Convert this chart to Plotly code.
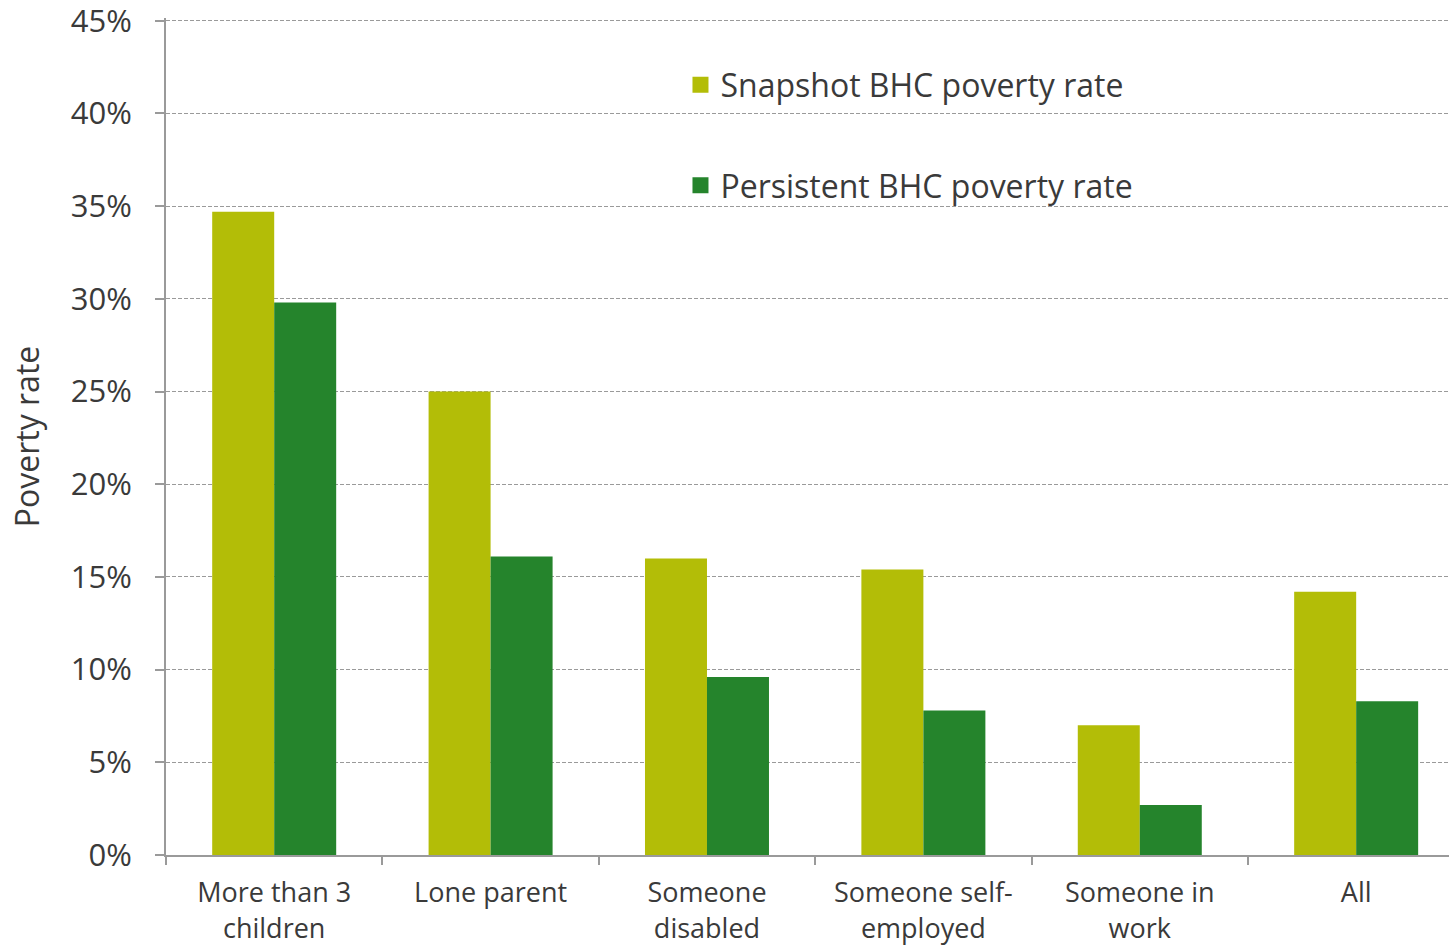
import plotly.graph_objects as go

categories = ["More than 3<br>children", "Lone parent", "Someone<br>disabled",
              "Someone self-<br>employed", "Someone in<br>work", "All"]
snapshot = [34.7, 25.0, 16.0, 15.4, 7.0, 14.2]
persistent = [29.8, 16.1, 9.6, 7.8, 2.7, 8.3]
series_names = ["Snapshot BHC poverty rate", "Persistent BHC poverty rate"]
colors = ["#B3BD07", "#25842C"]
y_ticks = [0, 5, 10, 15, 20, 25, 30, 35, 40, 45]
y_tick_labels = ["0%", "5%", "10%", "15%", "20%", "25%", "30%", "35%", "40%", "45%"]

FONT = "Open Sans"
TXT = "#3a3a3a"
AX = "#9a9a9a"

fig = go.Figure()
for name, vals, col in zip(series_names, [snapshot, persistent], colors):
    fig.add_trace(go.Bar(x=categories, y=vals, name=name, marker_color=col,
                         marker_line_width=0, showlegend=False))
for i, (name, col) in enumerate(zip(series_names, colors)):
    fig.add_trace(go.Scatter(x=[None], y=[None], mode="markers", name=name,
                             legendgroup=f"g{i}",
                             marker=dict(symbol="square", size=20, color=col)))

fig.update_layout(
    width=1449, height=945,
    margin=dict(l=166, r=0, t=18, b=90, autoexpand=False),
    paper_bgcolor="white", plot_bgcolor="white",
    font=dict(family=FONT, color=TXT),
    barmode="group", bargap=0.427, bargroupgap=0,
    legend=dict(x=0.401, y=0.953, xanchor="left", yanchor="top",
                font=dict(size=32, family=FONT, color=TXT),
                bgcolor="rgba(0,0,0,0)", tracegroupgap=56,
                traceorder="grouped", itemsizing="trace"),
)
fig.update_xaxes(
    type="category", range=[-0.5, 5.429],
    showline=True, linecolor=AX, linewidth=2,
    ticks="outside", tickson="boundaries", ticklen=8, tickcolor=AX, tickwidth=2,
    tickfont=dict(size=27, family=FONT, color=TXT), ticklabelstandoff=13,
    showgrid=False, fixedrange=True,
)
fig.update_yaxes(
    range=[0, 45.15], tickmode="array", tickvals=y_ticks, ticktext=y_tick_labels,
    ticklabeloverflow="allow",
    showline=True, linecolor=AX, linewidth=2,
    ticks="outside", ticklen=9, tickcolor=AX, tickwidth=2,
    tickfont=dict(size=31, family=FONT, color=TXT), ticklabelstandoff=17,
    showgrid=True, gridcolor=AX, gridwidth=1, griddash="4px,2px",
    zeroline=False,
    title=dict(text="Poverty rate", font=dict(size=32, family=FONT, color=TXT), standoff=22),
)

fig.write_html("out.html")
